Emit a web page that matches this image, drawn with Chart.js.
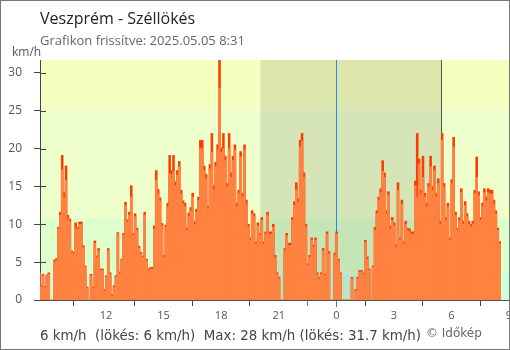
<!DOCTYPE html>
<html>
<head>
<meta charset="utf-8">
<script src="https://cdn.jsdelivr.net/npm/chart.js@4"></script>
<style>
  html, body { margin: 0; padding: 0; background: #fff; }
  canvas { display: block; }
</style>
</head>
<body>
<canvas id="c" width="510" height="350"></canvas>
<script>
// ---- Data ----
const title = "Veszprém - Széllökés";
const subtitle = "Grafikon frissítve: 2025.05.05 8:31";
const unitLabel = "km/h";
const footerText = "6 km/h  (lökés: 6 km/h)  Max: 28 km/h (lökés: 31.7 km/h)";
const creditText = "© Időkép";

const startHour = 8 + 31 / 60;   // first sample 8:31
const stepHours = 0.1;           // 6-minute samples

// mean wind speed (km/h)
const speed = [
  3.6,1.7,3.2,1.6,3.2,3.4,0,0,5.0,5.3,
  9.4,11.2,17.2,13.5,15.8,10.7,10.4,6.3,6.1,9.5,
  9.3,10.0,10.0,6.9,4.3,1.5,0,3.2,1.5,7.5,
  5.6,6.5,3.9,3.9,1.2,3.0,6.5,3.4,0.5,1.7,
  3.0,8.7,3.5,5.2,8.5,12.5,10.3,11.2,13.6,8.5,
  11.0,9.2,6.8,6.1,5.6,11.2,5.2,3.9,4.1,4.1,
  9.4,15.8,14.0,13.1,9.8,5.6,9.6,12.3,16.7,16.5,
  17.0,15.1,16.5,17.6,14.0,12.7,12.3,9.2,11.0,11.8,
  13.6,10.0,11.6,13.1,20.0,20.0,17.1,16.0,12.0,17.3,
  19.5,14.5,17.6,19.8,28.0,19.5,20.0,18.4,14.9,20.0,
  16.2,18.4,19.8,12.3,14.0,18.9,13.6,19.8,12.7,9.6,
  7.9,11.4,11.0,7.4,9.8,8.5,10.5,7.4,8.7,11.2,
  8.7,8.7,9.6,5.6,3.4,2.8,0,0,6.5,8.5,
  7.2,7.2,10.5,12.5,14.5,12.9,20.2,21.0,16.2,9.6,
  4.6,5.6,7.9,7.0,7.9,3.4,2.8,3.4,6.5,3.2,
  8.7,6.1,0,0,5.9,8.7,5.2,3.4,0,0,
  0,0,0,2.8,0,1.2,2.8,3.7,3.7,3.4,
  7.6,5.4,3.9,0,4.3,9.2,11.4,13.1,14.2,17.0,
  16.2,11.4,13.8,9.4,10.5,9.8,7.0,14.5,7.9,12.7,
  7.4,10.0,9.2,9.0,8.7,8.7,15.1,13.6,18.0,14.0,
  16.2,13.6,12.3,14.9,17.6,14.5,17.1,13.6,15.4,10.0,
  21.1,14.9,10.5,12.3,7.9,15.4,20.2,11.2,9.2,10.5,
  14.2,10.0,12.5,11.0,10.0,9.6,10.0,14.0,16.2,13.8,
  10.5,12.3,14.2,13.1,14.2,14.0,14.0,12.7,11.4,9.2,
  7.4
];

// wind gust (km/h)
const gust = [
  3.7,1.9,3.4,1.8,3.3,3.6,0,0,5.3,5.5,
  9.6,11.6,19.1,14.2,17.7,11.2,10.7,6.5,6.3,10.2,
  9.6,10.3,10.3,7.2,4.5,1.7,0,3.4,1.7,7.8,
  5.8,6.8,4.1,4.1,1.4,3.2,6.8,3.6,0.7,1.9,
  3.2,8.9,3.7,5.4,8.8,12.9,10.6,11.6,15.1,8.8,
  11.4,9.5,7.1,6.3,5.8,11.6,5.4,4.1,4.3,4.3,
  9.8,17.1,14.6,13.5,10.1,5.9,9.9,12.8,19.1,17.1,
  19.1,15.6,17.1,18.3,14.5,13.1,12.8,9.5,11.5,12.2,
  14.1,10.4,12.0,13.6,21.1,21.1,17.7,16.6,12.4,17.9,
  22.0,15.1,18.2,20.5,31.7,20.1,22.0,19.0,15.4,22.0,
  16.8,19.0,20.5,12.8,14.5,19.6,14.1,20.5,13.2,10.0,
  8.2,11.8,11.4,7.7,10.2,8.8,10.9,7.7,9.0,11.6,
  9.0,9.0,10.0,5.9,3.6,3.0,0,0,6.8,8.8,
  7.5,7.5,10.9,13.0,15.5,13.4,21.1,22.0,16.8,10.0,
  4.8,5.9,8.2,7.3,8.2,3.6,3.0,3.6,6.8,3.4,
  9.0,6.4,0,0,6.2,9.0,5.4,3.6,0,0,
  0,0,0,3.0,0,1.4,3.0,3.9,3.9,3.6,
  7.9,5.7,4.1,0,4.5,9.6,11.8,13.6,14.7,18.4,
  16.8,11.8,14.3,9.8,10.9,10.2,7.3,15.5,8.2,13.2,
  7.7,10.4,9.5,9.4,9.0,9.0,15.7,22.0,18.6,14.5,
  19.0,14.1,12.8,15.4,19.0,15.0,17.7,14.1,16.0,10.4,
  22.0,15.4,10.9,12.8,8.2,15.9,21.5,11.6,9.5,10.9,
  14.7,10.4,13.0,11.4,10.4,10.0,10.4,14.5,18.9,14.3,
  10.9,12.8,14.7,13.6,14.7,14.5,14.5,13.2,11.8,9.5,
  7.7
];

// x tick positions (hours since previous midnight) and their labels
const xTickHours  = [12, 15, 18, 21, 24, 27, 30, 33];
const xTickLabels = ["12", "15", "18", "21", "0", "3", "6", "9"];
const yTickValues = [0, 5, 10, 15, 20, 25, 30];

// background bands (km/h) and night period
const bandLimits = [0, 3.6, 10.8, 25.2, 31.7];
const bandColors = ["#ccffdc", "#ddffcc", "#efffcc", "#f5ffc0"];
const nightStart = 20 + 3 / 60;       // sunset 20:03
const nightEnd   = 24 + 5 + 28 / 60;  // sunrise 5:28
const midnight   = 24;

const xMin = 8.56, xMax = 33.0, yMax = 31.7;

// ---- Build ----
const speedPts = speed.map((v, i) => ({ x: startHour + i * stepHours, y: v }));
const gustPts  = gust.map((v, i) => ({ x: startHour + i * stepHours, y: v }));

const FONT = "'Open Sans', 'Noto Sans', sans-serif";
const FOOT_FONT = "'DejaVu Sans', sans-serif";

const backgroundPlugin = {
  id: 'bg',
  beforeDraw(chart) {
    const { ctx, chartArea: a, scales: { x, y } } = chart;
    ctx.save();
    ctx.fillStyle = '#ffffff';
    ctx.fillRect(0, 0, chart.width, chart.height);
    for (let i = 0; i < bandColors.length; i++) {
      const y0 = y.getPixelForValue(bandLimits[i]);
      const y1 = y.getPixelForValue(bandLimits[i + 1]);
      ctx.fillStyle = bandColors[i];
      ctx.fillRect(a.left, y1, a.right - a.left, y0 - y1);
    }
    const n0 = x.getPixelForValue(nightStart), n1 = x.getPixelForValue(nightEnd);
    ctx.fillStyle = 'rgba(0,0,0,0.1)';
    ctx.fillRect(n0, a.top, n1 - n0, a.bottom - a.top);
    // sunrise line
    ctx.strokeStyle = '#555555';
    ctx.lineWidth = 1;
    ctx.beginPath();
    ctx.moveTo(Math.round(n1) + 0.5, a.top);
    ctx.lineTo(Math.round(n1) + 0.5, a.bottom);
    ctx.stroke();
    // midnight line
    const m = x.getPixelForValue(midnight);
    ctx.strokeStyle = '#1e90e0';
    ctx.beginPath();
    ctx.moveTo(Math.round(m) + 0.5, a.top);
    ctx.lineTo(Math.round(m) + 0.5, a.bottom + 7);
    ctx.stroke();
    ctx.restore();
  }
};

const textPlugin = {
  id: 'texts',
  afterDraw(chart) {
    const { ctx, chartArea: a, scales: { y } } = chart;
    ctx.save();
    // inner y ticks
    ctx.strokeStyle = '#444444';
    ctx.lineWidth = 1;
    yTickValues.forEach(v => {
      const py = Math.round(y.getPixelForValue(v)) + 0.5;
      ctx.beginPath();
      ctx.moveTo(a.left, py);
      ctx.lineTo(a.left + 6, py);
      ctx.stroke();
    });
    ctx.textBaseline = 'alphabetic';
    ctx.textAlign = 'left';
    ctx.fillStyle = '#222222';
    ctx.font = "16px " + FONT;
    ctx.fillText(title, 40, 24);
    ctx.fillStyle = '#666666';
    ctx.font = "13px " + FONT;
    ctx.fillText(subtitle, 40, 45);
    ctx.fillStyle = '#555555';
    ctx.font = "12px " + FONT;
    ctx.fillText(unitLabel, 12, 56);
    ctx.fillStyle = '#444444';
    ctx.font = "13.4px " + FOOT_FONT;
    ctx.fillText(footerText, 40, 340);
    ctx.fillStyle = '#666666';
    ctx.font = "12px " + FOOT_FONT;
    ctx.fillText(creditText, 426, 337);
    // frame
    ctx.strokeStyle = '#777777';
    ctx.strokeRect(0.5, 0.5, chart.width - 1, chart.height - 1);
    ctx.restore();
  }
};

new Chart(document.getElementById('c'), {
  type: 'bar',
  data: {
    datasets: [
      { label: 'Szél', data: speedPts, backgroundColor: '#ff8241', borderWidth: 0,
        grouped: false, barPercentage: 1, categoryPercentage: 1, order: 0 },
      { label: 'Széllökés', data: gustPts, backgroundColor: '#ff3c00', borderWidth: 0,
        grouped: false, barPercentage: 1, categoryPercentage: 1, order: 1 }
    ]
  },
  options: {
    responsive: false,
    animation: false,
    devicePixelRatio: 1,
    layout: { padding: { top: 60, left: 0, right: 1, bottom: 0 } },
    plugins: { legend: { display: false }, tooltip: { enabled: false } },
    scales: {
      x: {
        type: 'linear', min: xMin, max: xMax, offset: false, z: 1,
        afterBuildTicks(s) {
          s.ticks = [{ value: xMin }].concat(xTickHours.map(v => ({ value: v })));
        },
        afterFit(s) { s.height = 50; s.paddingLeft = 0; s.paddingRight = 0; },
        ticks: {
          autoSkip: false, maxRotation: 0, padding: 3, color: '#555555',
          font: { size: 11, family: FONT },
          callback(v) { const k = xTickHours.indexOf(v); return k >= 0 ? xTickLabels[k] : ''; }
        },
        grid: {
          drawOnChartArea: false, tickLength: 6,
          color: c => (c.tick && c.tick.value === midnight) ? '#1e90e0' : '#444444'
        },
        border: { color: '#555555', width: 1 }
      },
      y: {
        min: 0, max: yMax, z: 1,
        afterBuildTicks(s) { s.ticks = yTickValues.map(v => ({ value: v })); },
        afterFit(s) { s.width = 40; s.paddingTop = 0; s.paddingBottom = 0; },
        ticks: { padding: 12, color: '#555555', font: { size: 12, family: FONT } },
        grid: { drawOnChartArea: false, tickLength: 6, color: '#444444' },
        border: { color: '#444444', width: 1 }
      }
    }
  },
  plugins: [backgroundPlugin, textPlugin]
});
</script>
</body>
</html>
